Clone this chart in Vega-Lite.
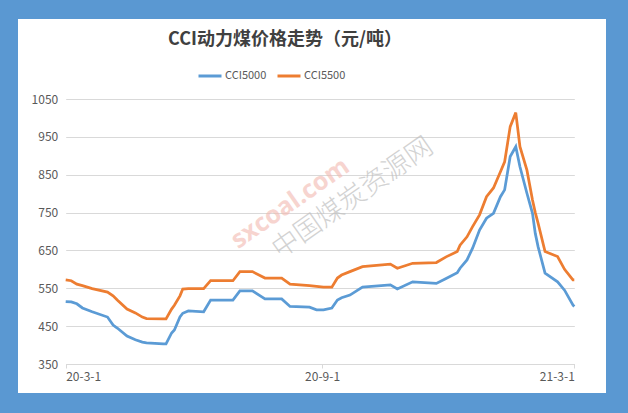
{
  "$schema": "https://vega.github.io/schema/vega-lite/v6.json",
  "width": 588,
  "height": 374,
  "autosize": "none",
  "padding": {"left": 18, "top": 19, "right": 22, "bottom": 20},
  "background": "#5A98D2",
  "config": {
    "view": {"fill": "white", "stroke": null},
    "font": "Noto Sans CJK SC"
  },
  "title": {
    "text": "CCI动力煤价格走势（元/吨）",
    "fontSize": 18,
    "fontWeight": "bold",
    "color": "#404040",
    "font": "Noto Sans CJK SC",
    "anchor": "middle",
    "baseline": "middle",
    "offset": 0,
    "dx": -27,
    "dy": 39
  },
  "datasets": {
    "prices": [
      {"date": "2020-03-01", "CCI5000": 515, "CCI5500": 572},
      {"date": "2020-03-05", "CCI5000": 514, "CCI5500": 570},
      {"date": "2020-03-09", "CCI5000": 509, "CCI5500": 561},
      {"date": "2020-03-13", "CCI5000": 498, "CCI5500": 557},
      {"date": "2020-03-20", "CCI5000": 488, "CCI5500": 549},
      {"date": "2020-03-31", "CCI5000": 474, "CCI5500": 540},
      {"date": "2020-04-04", "CCI5000": 453, "CCI5500": 530},
      {"date": "2020-04-07", "CCI5000": 445, "CCI5500": 519},
      {"date": "2020-04-14", "CCI5000": 424, "CCI5500": 495},
      {"date": "2020-04-20", "CCI5000": 414, "CCI5500": 485},
      {"date": "2020-04-25", "CCI5000": 408, "CCI5500": 474},
      {"date": "2020-04-28", "CCI5000": 406, "CCI5500": 470},
      {"date": "2020-05-10", "CCI5000": 403, "CCI5500": 469},
      {"date": "2020-05-12", "CCI5000": 403, "CCI5500": 469},
      {"date": "2020-05-16", "CCI5000": 432, "CCI5500": 495},
      {"date": "2020-05-18", "CCI5000": 440, "CCI5500": 505},
      {"date": "2020-05-22", "CCI5000": 474, "CCI5500": 530},
      {"date": "2020-05-24", "CCI5000": 484, "CCI5500": 548},
      {"date": "2020-05-28", "CCI5000": 490, "CCI5500": 549},
      {"date": "2020-06-08", "CCI5000": 488, "CCI5500": 549},
      {"date": "2020-06-13", "CCI5000": 519, "CCI5500": 570},
      {"date": "2020-06-29", "CCI5000": 519, "CCI5500": 570},
      {"date": "2020-07-04", "CCI5000": 543, "CCI5500": 594},
      {"date": "2020-07-13", "CCI5000": 543, "CCI5500": 594},
      {"date": "2020-07-22", "CCI5000": 522, "CCI5500": 577},
      {"date": "2020-08-03", "CCI5000": 522, "CCI5500": 577},
      {"date": "2020-08-09", "CCI5000": 502, "CCI5500": 561},
      {"date": "2020-08-23", "CCI5000": 500, "CCI5500": 557},
      {"date": "2020-08-28", "CCI5000": 493, "CCI5500": 555},
      {"date": "2020-09-02", "CCI5000": 493, "CCI5500": 553},
      {"date": "2020-09-08", "CCI5000": 498, "CCI5500": 553},
      {"date": "2020-09-12", "CCI5000": 519, "CCI5500": 577},
      {"date": "2020-09-15", "CCI5000": 525, "CCI5500": 585},
      {"date": "2020-09-21", "CCI5000": 532, "CCI5500": 594},
      {"date": "2020-09-30", "CCI5000": 553, "CCI5500": 607},
      {"date": "2020-10-20", "CCI5000": 559, "CCI5500": 614},
      {"date": "2020-10-25", "CCI5000": 548, "CCI5500": 603},
      {"date": "2020-11-05", "CCI5000": 567, "CCI5500": 616},
      {"date": "2020-11-22", "CCI5000": 563, "CCI5500": 618},
      {"date": "2020-11-29", "CCI5000": 576, "CCI5500": 633},
      {"date": "2020-12-07", "CCI5000": 591, "CCI5500": 647},
      {"date": "2020-12-09", "CCI5000": 603, "CCI5500": 664},
      {"date": "2020-12-14", "CCI5000": 625, "CCI5500": 686},
      {"date": "2020-12-18", "CCI5000": 656, "CCI5500": 713},
      {"date": "2020-12-23", "CCI5000": 704, "CCI5500": 744},
      {"date": "2020-12-28", "CCI5000": 735, "CCI5500": 792},
      {"date": "2021-01-02", "CCI5000": 748, "CCI5500": 815},
      {"date": "2021-01-07", "CCI5000": 792, "CCI5500": 858},
      {"date": "2021-01-10", "CCI5000": 810, "CCI5500": 884},
      {"date": "2021-01-14", "CCI5000": 898, "CCI5500": 977},
      {"date": "2021-01-18", "CCI5000": 924, "CCI5500": 1014},
      {"date": "2021-01-21", "CCI5000": 871, "CCI5500": 924},
      {"date": "2021-01-26", "CCI5000": 801, "CCI5500": 862},
      {"date": "2021-01-30", "CCI5000": 748, "CCI5500": 783},
      {"date": "2021-02-01", "CCI5000": 695, "CCI5500": 750},
      {"date": "2021-02-03", "CCI5000": 660, "CCI5500": 722},
      {"date": "2021-02-08", "CCI5000": 590, "CCI5500": 647},
      {"date": "2021-02-17", "CCI5000": 567, "CCI5500": 634},
      {"date": "2021-02-22", "CCI5000": 545, "CCI5500": 600},
      {"date": "2021-02-28", "CCI5000": 506, "CCI5500": 572},
      {"date": "2021-03-01", "CCI5000": 502, "CCI5500": 572}
    ]
  },
  "layer": [
    {
      "data": {"values": [{"date": "2020-08-09", "price": 775, "label": "sxcoal.com"}]},
      "mark": {"type": "text", "angle": 325, "fontSize": 25, "fontWeight": "bold", "color": "#F2B8B0", "opacity": 0.6, "font": "Open Sans"},
      "encoding": {
        "x": {"field": "date", "type": "temporal"},
        "y": {"field": "price", "type": "quantitative"},
        "text": {"field": "label"}
      }
    },
    {
      "data": {"values": [{"date": "2020-09-23", "price": 788, "label": "中国煤炭资源网"}]},
      "mark": {"type": "text", "angle": 325, "fontSize": 27, "fontWeight": 300, "color": "#C0C0C0", "opacity": 0.7, "font": "Noto Sans CJK SC"},
      "encoding": {
        "x": {"field": "date", "type": "temporal"},
        "y": {"field": "price", "type": "quantitative"},
        "text": {"field": "label"}
      }
    },
    {
      "data": {"name": "prices"},
      "transform": [{"fold": ["CCI5000", "CCI5500"], "as": ["series", "price"]}],
      "mark": {"type": "line", "strokeWidth": 2.75, "interpolate": "linear"},
      "encoding": {
        "x": {
          "field": "date",
          "type": "temporal",
          "scale": {
            "domain": [
              {"year": 2020, "month": 3, "date": 1, "utc": true},
              {"year": 2021, "month": 3, "date": 1, "utc": true}
            ],
            "range": [47.7, 556.3],
            "nice": false
          },
          "axis": {
            "title": null,
            "offset": -29,
            "values": [
              {"year": 2020, "month": 3, "date": 1, "utc": true},
              {"year": 2020, "month": 9, "date": 1, "utc": true},
              {"year": 2021, "month": 3, "date": 1, "utc": true}
            ],
            "labelExpr": "utcFormat(datum.value, '%y-%-m-%-d')",
            "grid": false,
            "domainColor": "#D9D9D9",
            "tickColor": "#D9D9D9",
            "tickSize": 4,
            "labelPadding": 3,
            "labelFontSize": 12,
            "labelColor": "#595959",
            "labelFont": "Noto Sans CJK SC"
          }
        },
        "y": {
          "field": "price",
          "type": "quantitative",
          "scale": {"domain": [350, 1050], "range": [345, 80], "nice": false, "zero": false},
          "axis": {
            "title": null,
            "offset": -47.7,
            "values": [350, 450, 550, 650, 750, 850, 950, 1050],
            "format": "d",
            "domain": false,
            "ticks": false,
            "grid": true,
            "gridColor": "#D9D9D9",
            "labelPadding": 8,
            "labelFontSize": 12,
            "labelColor": "#595959",
            "labelFont": "Noto Sans CJK SC"
          }
        },
        "color": {
          "field": "series",
          "type": "nominal",
          "scale": {"domain": ["CCI5000", "CCI5500"], "range": ["#5B9BD5", "#ED7D31"]},
          "legend": {
            "title": null,
            "orient": "none",
            "legendX": 179,
            "legendY": 44,
            "direction": "horizontal",
            "symbolType": "stroke",
            "symbolSize": 529,
            "symbolStrokeWidth": 3,
            "labelFontSize": 11,
            "labelColor": "#595959",
            "labelFont": "Noto Sans CJK SC",
            "labelOffset": 2,
            "columnPadding": 4,
            "padding": 0
          }
        }
      }
    }
  ]
}
